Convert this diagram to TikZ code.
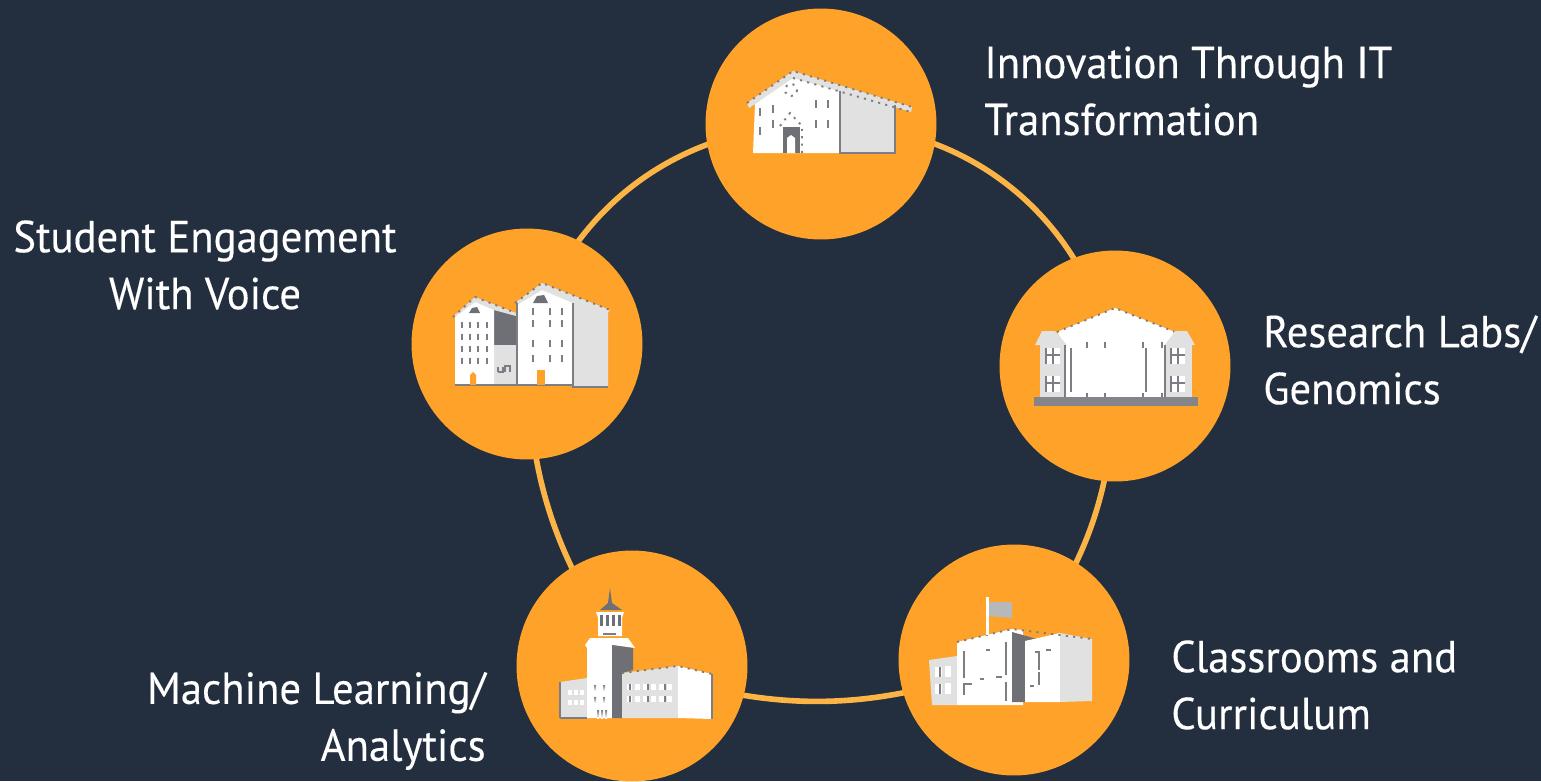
\documentclass[tikz,border=0pt]{standalone}
\usepackage{fontspec}
\setmainfont[FakeStretch=0.953,FakeBold=0.25]{PT Sans}
\definecolor{slidebg}{HTML}{232F3E}
\definecolor{hub}{HTML}{FFA229}
\definecolor{ringline}{HTML}{FCB447}
\definecolor{sidewall}{HTML}{E1E1E1}
\definecolor{shade}{HTML}{6E7075}
\pgfdeclarelayer{ring}
\pgfsetlayers{ring,main}
\tikzset{
  hubnode/.style={circle,fill=hub,minimum size=4.62cm,inner sep=0pt},
  ringedge/.style={ringline,line width=3.2pt},
  caption/.style={text=white,inner sep=0pt,font=\fontsize{25.5}{32.4}\selectfont},
  wall/.style={fill=white},
  side/.style={fill=sidewall},
  dark/.style={fill=shade},
  tick/.style={draw=shade!90,line width=1pt},
  dots/.style={draw=shade!90,line width=1.1pt,dash pattern=on 1.2pt off 3pt},
}
\begin{document}
\begin{tikzpicture}[x=0.02cm,y=-0.02cm]
    \useasboundingbox (0,0) rectangle (1541,781);
    \node[hubnode] (innovation) at (821,124) {};
    \node[hubnode] (research) at (1115,366) {};
    \node[hubnode] (classroom) at (1014,660) {};
    \node[hubnode] (machine) at (632,666) {};
    \node[hubnode] (student) at (527,344) {};

    \begin{pgfonlayer}{ring}
    \fill[slidebg] (0,0) rectangle (1541,781);
    \draw[ringedge] (innovation.center) to[bend left=40] (research.center);
    \draw[ringedge] (research.center) to[bend left=19] (classroom.center);
    \draw[ringedge] (classroom.center) to[bend left=20] (machine.center);
    \draw[ringedge] (machine.center) to[bend left=18] (student.center);
    \draw[ringedge] (student.center) to[bend left=36] (innovation.center);
    \end{pgfonlayer}

    \node[caption,align=left,anchor=west] (innovationtext) at (984,91) {Innovation Through IT\\Transformation};
    \node[caption,align=left,anchor=west] (researchtext) at (1263,360) {Research Labs/\\Genomics};
    \node[caption,align=left,anchor=west] (classroomtext) at (1171,685) {Classrooms and\\Curriculum};
    \node[caption,align=right,anchor=east] (machinetext) at (486,721) {Machine Learning/\\Analytics};
    \node[caption,align=center] (studenttext) at (205,265) {Student Engagement\\With Voice};

    % innovation building
    \fill[side] (840,90) -- (895,105) -- (895,153) -- (840,153) -- cycle;
    \fill[wall] (753,153) -- (755,104) -- (793,76) -- (840,90) -- (840,153) -- cycle;
    \fill[side] (747,103) -- (793,71) -- (912,107) -- (911,112) -- (895,107) -- (793,78) -- (749,108) -- cycle;
    \draw[dots] (747,103) -- (793,71) -- (912,107);
    \draw[dots] (793,78) -- (911,112);
    \fill[dark] (783,127) rectangle (800,153);
    \fill[wall] (787,153) -- (787,138) -- (791,135) -- (795,138) -- (795,153) -- cycle;
    \draw[tick,line width=1.3pt] (840,91) -- (840,153) -- (895,153) -- (895,105);
    \draw[dots] (780,126) -- (790,113) -- (802,126) -- (802,153);
    \draw[dots] (791,90) circle (6);
    \foreach \tx/\ty in {760/108,760/127,773/105,773/120,816/100,816/120,828/100,828/120}
      \draw[tick] (\tx,\ty) -- (\tx,\ty+8);

    % student building
    \fill[dark] (494,310) -- (516,315) -- (516,345) -- (494,345) -- cycle;
    \fill[side] (494,345) rectangle (516,385);
    \fill[wall] (455,385) -- (455,315) -- (475,299) -- (494,308) -- (494,385) -- cycle;
    \fill[side] (453,317) -- (475,297) -- (516,313) -- (516,316) -- (494,310) -- (475,302) -- (455,317) -- cycle;
    \fill[side] (573,300) -- (608,310) -- (608,387) -- (573,387) -- cycle;
    \fill[wall] (517,385) -- (517,302) -- (542,287) -- (573,301) -- (573,385) -- cycle;
    \fill[side] (515,303) -- (542,283) -- (610,310) -- (608,312) -- (573,303) -- (542,290) -- (517,305) -- cycle;
    \draw[dots] (453,317) -- (475,297) -- (516,313);
    \draw[dots] (515,303) -- (542,283) -- (610,310);
    \draw[tick] (455,385) -- (516,385);
    \draw[tick] (517,303) -- (517,385) -- (573,385);
    \draw[tick,line width=1.3pt] (573,303) -- (573,387) -- (608,387);
    \fill[dark] (469,313) -- (472,308) -- (477,307) -- (480,313) -- cycle;
    \fill[dark] (533,303) -- (537,296) -- (544,295) -- (548,303) -- cycle;
    \fill[hub] (470,385) -- (470,375) -- (473,372) -- (476,375) -- (476,385) -- cycle;
    \fill[hub] (537,385) rectangle (545,370);
    \foreach \ty in {322,334,346,358}
      \foreach \tx in {462,470,478,487}
        \draw[tick] (\tx,\ty) -- (\tx,\ty+6);
    \foreach \ty in {308,320,340,355}
      \foreach \tx in {533,550,562}
        \draw[tick] (\tx,\ty) -- (\tx,\ty+7);
    \draw[tick] (498,372) -- (498,367) (498,372) -- (503,372) -- (503,367);
    \draw[tick] (505,372) -- (505,366) -- (510,366) -- (510,372);

    % research building
    \fill[wall] (1065,397) -- (1065,345) -- (1057,332) -- (1115,308) -- (1175,332) -- (1165,345) -- (1165,397) -- cycle;
    \draw[dots] (1057,332) -- (1115,308) -- (1175,332);
    \fill[side] (1040,345) rectangle (1065,397);
    \fill[side] (1165,345) rectangle (1192,397);
    \fill[side] (1042,331) -- (1055,331) -- (1067,345) -- (1035,345) -- cycle;
    \fill[side] (1175,331) -- (1187,331) -- (1195,345) -- (1165,345) -- cycle;
    \fill[shade!85] (1034,397) rectangle (1198,406);
    \foreach \tx in {1046,1171} \foreach \ty in {348,376} {
      \fill[white] (\tx,\ty) rectangle (\tx+14,\ty+16);
      \draw[tick] (\tx,\ty+7) -- (\tx+14,\ty+7);
      \draw[tick] (\tx+7,\ty) -- (\tx+7,\ty+16);
      \draw[tick] (\tx,\ty) -- (\tx,\ty+16);
    }
    \foreach \tx in {1071,1146}
      \draw[tick] (\tx,348) -- (\tx,392);
    \foreach \tx in {1087,1105,1143,1162} {
      \draw[tick] (\tx,342) -- (\tx,348);
      \draw[tick] (\tx,393) -- (\tx,397);
    }
    \draw[tick] (1065,345) -- (1065,397);
    \draw[tick] (1165,345) -- (1165,397);

    % machine building
    \fill[side] (560,682) -- (587,678) -- (587,718) -- (560,718) -- cycle;
    \draw[tick] (560,718) -- (560,682);
    \draw[tick] (560,718) -- (587,718);
    \fill[dark] (610,588) -- (612,603) -- (622,610) -- (600,610) -- (608,603) -- cycle;
    \fill[wall] (596,612) -- (624,612) -- (622,618) -- (622,636) -- (598,636) -- (598,618) -- cycle;
    \foreach \tx in {600,606,612,618}
      \fill[dark] (\tx,615) rectangle (\tx+3,626);
    \draw[tick] (603,634) -- (616,634);
    \fill[wall] (585,645) -- (590,638) -- (628,638) -- (635,648) -- (612,645) -- (612,718) -- (587,718) -- (587,648) -- cycle;
    \fill[dark] (612,645) -- (633,648) -- (633,670) -- (622,673) -- (622,718) -- (612,718) -- cycle;
    \fill[side] (622,673) -- (678,666) -- (678,718) -- (622,718) -- cycle;
    \fill[wall] (678,666) -- (712,674) -- (712,719) -- (678,718) -- cycle;
    \draw[tick] (712,674) -- (712,719);
    \draw[dots] (622,673) -- (678,666) -- (712,674);
    \foreach \tx in {594,603} \foreach \ty in {685,697}
      \fill[shade] (\tx,\ty) rectangle (\tx+2,\ty+6);
    \foreach \tx in {597,601,605}
      \fill[shade] (\tx,710) rectangle (\tx+2,718);
    \foreach \tx in {568,574,580} \foreach \ty in {690,700}
      \fill[white] (\tx,\ty) rectangle (\tx+4,\ty+5);
    \foreach \tx in {627,635,643,651,659,667} \foreach \ty in {684,696}
      \fill[white] (\tx,\ty) rectangle (\tx+5,\ty+6);
    \foreach \tx in {630,648,665} \foreach \ty in {684,696}
      \draw[tick] (\tx,\ty) -- (\tx,\ty+6);

    % classroom building
    \fill[side] (929,660) -- (957,656) -- (957,705) -- (932,705) -- cycle;
    \fill[white] (945,666) rectangle (951,677);
    \fill[white] (945,683) rectangle (951,694);
    \fill[white] (935,667) rectangle (942,677);
    \fill[white] (935,684) rectangle (942,694);
    \draw[tick] (940,667) -- (940,677);
    \draw[tick] (940,684) -- (940,694);
    \fill[wall] (957,705) -- (957,642) -- (1012,629) -- (1023,630) -- (1023,705) -- cycle;
    \fill[dark] (1012,632) -- (1037,639) -- (1025,641) -- (1025,702) -- (1012,702) -- cycle;
    \fill[wall] (1025,641) -- (1060,633) -- (1060,702) -- (1025,702) -- cycle;
    \fill[side] (1060,633) -- (1092,639) -- (1092,701) -- (1060,702) -- cycle;
    \draw[dots] (957,642) -- (1012,629) -- (1092,639);
    \fill[wall] (986,597) rectangle (989,635);
    \fill[shade!50] (989,602) -- (1012,602) -- (1012,618) -- (989,616) -- cycle;
    \draw[tick] (964,651) -- (964,678);
    \draw[tick] (964,695) -- (964,684) -- (972,684);
    \draw[tick] (1006,642) -- (1006,675);
    \draw[tick] (1006,682) -- (1006,701);
    \draw[tick] (986,650) -- (990,650);
    \draw[tick] (996,677) -- (1002,677);
    \draw[tick] (980,679) -- (984,679);
    \draw[tick] (1035,652) -- (1039,652) -- (1039,670);
    \draw[tick] (1039,672) -- (1039,685);
    \draw[tick] (1046,650) -- (1051,650);
    \draw[tick] (1030,686) -- (1034,686);
\end{tikzpicture}
\end{document}
